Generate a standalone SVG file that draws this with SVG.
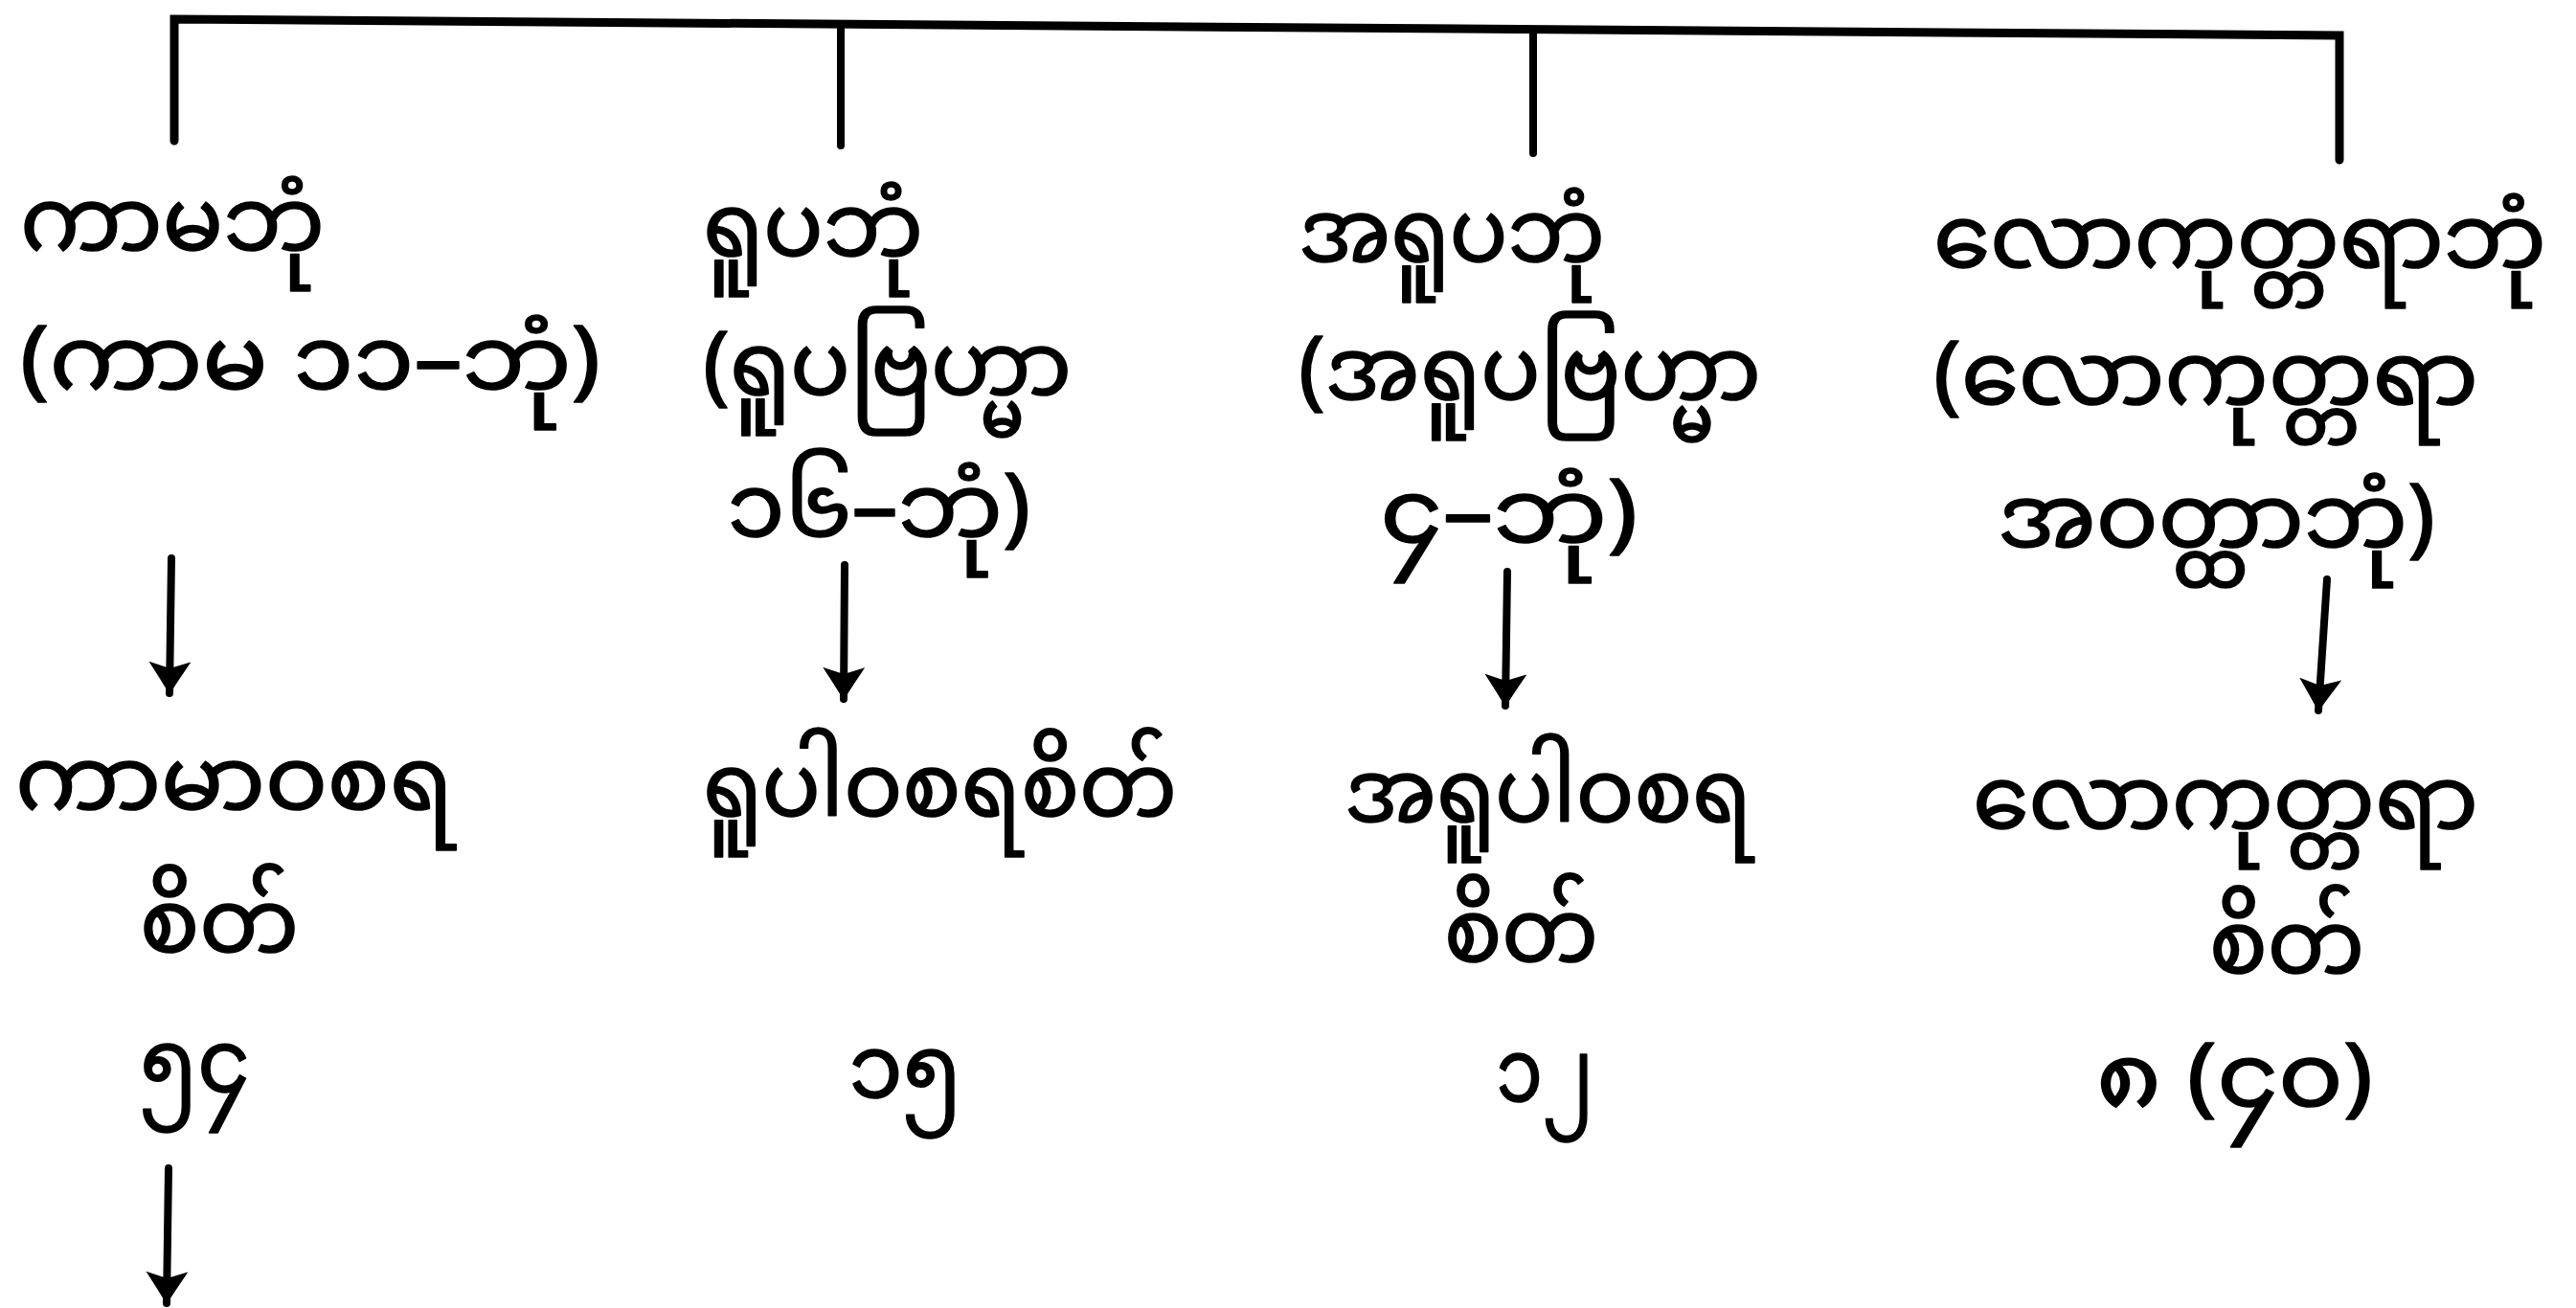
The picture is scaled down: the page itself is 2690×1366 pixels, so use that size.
<svg xmlns="http://www.w3.org/2000/svg" width="2690" height="1366" viewBox="0 0 2690 1366">
<defs>
<style>
.t{font-family:"Noto Sans Myanmar","Noto Serif Myanmar","Padauk","Myanmar Text","Myanmar3","Noto Sans",sans-serif;font-size:92px;fill:#000;stroke:#000;stroke-width:1.6;stroke-linejoin:round}
.ln{stroke:#000;stroke-width:8;fill:none;stroke-linecap:round}
.top{stroke:#000;stroke-width:9;fill:none;stroke-linecap:round;stroke-linejoin:miter}
</style>
<marker id="ah" viewBox="0 0 34 44" refX="33" refY="22" markerWidth="34" markerHeight="44" markerUnits="userSpaceOnUse" orient="auto">
<path d="M0,0 Q18,12 34,22 Q18,32 0,44 L7,22 z" fill="#000"/>
</marker>
</defs>
<rect width="2690" height="1366" fill="#fff"/>
<g id="connectors">
<path class="top" d="M182,147 L182,20 L2443,37 L2443,167"/>
<line class="ln" x1="878" y1="25" x2="878" y2="152"/>
<line class="ln" x1="1601" y1="31" x2="1601" y2="160"/>
<line class="ln" x1="179" y1="583" x2="177" y2="724" marker-end="url(#ah)"/>
<line class="ln" x1="882" y1="590" x2="881" y2="730" marker-end="url(#ah)"/>
<line class="ln" x1="1574" y1="597" x2="1572" y2="737" marker-end="url(#ah)"/>
<line class="ln" x1="2430" y1="605" x2="2421" y2="742" marker-end="url(#ah)"/>
<line class="ln" x1="176" y1="1220" x2="174" y2="1361" marker-end="url(#ah)"/>
</g>
<g id="kama-bhumi">
<text class="t" x="21" y="261" textLength="318" lengthAdjust="spacingAndGlyphs">ကာမဘုံ</text>
<text class="t" x="21" y="406" textLength="606" lengthAdjust="spacingAndGlyphs">(ကာမ ၁၁–ဘုံ)</text>
</g>
<g id="rupa-bhumi">
<text class="t" x="734" y="267" textLength="230" lengthAdjust="spacingAndGlyphs">ရူပဘုံ</text>
<text class="t" x="734" y="412" textLength="385" lengthAdjust="spacingAndGlyphs">(ရူပဗြဟ္မာ</text>
<text class="t" x="759" y="560" textLength="317" lengthAdjust="spacingAndGlyphs">၁၆–ဘုံ)</text>
</g>
<g id="arupa-bhumi">
<text class="t" x="1356" y="273" textLength="320" lengthAdjust="spacingAndGlyphs">အရူပဘုံ</text>
<text class="t" x="1356" y="417" textLength="483" lengthAdjust="spacingAndGlyphs">(အရူပဗြဟ္မာ</text>
<text class="t" x="1441" y="566" textLength="269" lengthAdjust="spacingAndGlyphs">၄–ဘုံ)</text>
</g>
<g id="lokuttara-bhumi">
<text class="t" x="2019" y="279" textLength="640" lengthAdjust="spacingAndGlyphs">လောကုတ္တရာဘုံ</text>
<text class="t" x="2019" y="422" textLength="569" lengthAdjust="spacingAndGlyphs">(လောကုတ္တရာ</text>
<text class="t" x="2086" y="571" textLength="457" lengthAdjust="spacingAndGlyphs">အဝတ္ထာဘုံ)</text>
</g>
<g id="kamavacara-citta">
<text class="t" x="16" y="845" textLength="457" lengthAdjust="spacingAndGlyphs">ကာမာဝစရ</text>
<text class="t" x="146" y="994" textLength="166" lengthAdjust="spacingAndGlyphs">စိတ်</text>
<text class="t" x="146" y="1140" textLength="115" lengthAdjust="spacingAndGlyphs">၅၄</text>
</g>
<g id="rupavacara-citta">
<text class="t" x="734" y="852" textLength="495" lengthAdjust="spacingAndGlyphs">ရူပါဝစရစိတ်</text>
<text class="t" x="886" y="1146" textLength="118" lengthAdjust="spacingAndGlyphs">၁၅</text>
</g>
<g id="arupavacara-citta">
<text class="t" x="1404" y="858" textLength="425" lengthAdjust="spacingAndGlyphs">အရူပါဝစရ</text>
<text class="t" x="1508" y="1004" textLength="161" lengthAdjust="spacingAndGlyphs">စိတ်</text>
<text class="t" x="1562" y="1150" textLength="102" lengthAdjust="spacingAndGlyphs">၁၂</text>
</g>
<g id="lokuttara-citta">
<text class="t" x="2060" y="865" textLength="528" lengthAdjust="spacingAndGlyphs">လောကုတ္တရာ</text>
<text class="t" x="2307" y="1016" textLength="162" lengthAdjust="spacingAndGlyphs">စိတ်</text>
<text class="t" x="2189" y="1155" textLength="289" lengthAdjust="spacingAndGlyphs">၈ (၄၀)</text>
</g>
</svg>
